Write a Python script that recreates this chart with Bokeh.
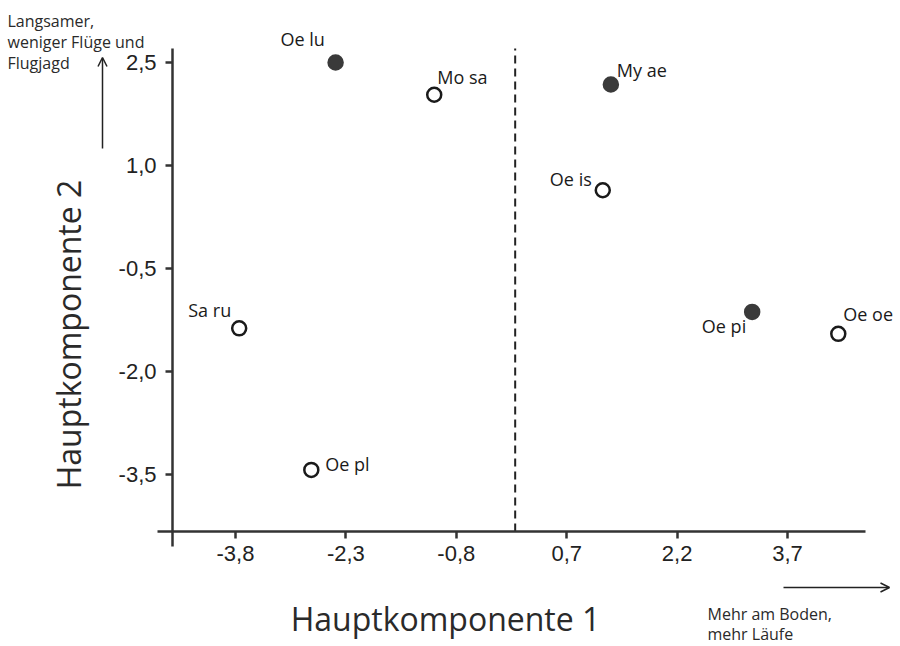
import math
from bokeh.plotting import figure
from bokeh.models import (ColumnDataSource, Range1d, FixedTicker, Label,
                          Arrow, OpenHead, LinearAxis)
from bokeh.core.properties import value
from bokeh.embed import file_html
from bokeh.resources import INLINE

# ---------------- data ----------------
species = ["Oe lu", "Mo sa", "My ae", "Oe is", "Oe pi", "Oe oe", "Sa ru", "Oe pl"]
pc1 = [-2.44, -1.10, 1.30, 1.19, 3.22, 4.39, -3.75, -2.77]
pc2 = [2.50, 2.03, 2.18, 0.64, -1.13, -1.45, -1.37, -3.43]
filled = [True, False, True, False, True, False, False, False]

x_ticks = [-3.8, -2.3, -0.8, 0.7, 2.2, 3.7]
y_ticks = [2.5, 1.0, -0.5, -2.0, -3.5]
x_tick_labels = ["-3,8", "-2,3", "-0,8", "0,7", "2,2", "3,7"]
y_tick_labels = ["2,5", "1,0", "-0,5", "-2,0", "-3,5"]
split_at = 0.0

x_title = "Hauptkomponente 1"
y_title = "Hauptkomponente 2"
y_note = ["Langsamer,", "weniger Flüge und", "Flugjagd"]
x_note = ["Mehr am Boden,", "mehr Läufe"]

# ---------------- label placement (screen px) ----------------
lab_dx = [-33, 3, 6, -11, -6, 5, -8, 14]
lab_dy = [-24, -18, -14, -11, 14, -20, -18, -6]
lab_align = ["center", "left", "left", "right", "right", "left", "right", "left"]

# ---------------- geometry ----------------
W, H = 900, 646
PX_X, PX_Y = 73.6, 68.7          # pixels per unit
XA = -3.8 - 235 / PX_X           # data x at canvas left
YA = 2.5 + 62 / PX_Y             # data y at canvas top


def dxp(px):
    return XA + px / PX_X


def dyp(py):
    return YA - py / PX_Y


p = figure(width=W, height=H, output_backend="svg", toolbar_location=None,
           x_range=Range1d(XA, XA + W / PX_X), y_range=Range1d(YA - H / PX_Y, YA),
           x_axis_location=None, y_axis_location=None,
           min_border=0, min_border_left=0, min_border_right=0,
           min_border_top=0, min_border_bottom=0)
p.outline_line_color = None
p.grid.visible = False
p.background_fill_color = "white"
p.border_fill_color = "white"

x_axis_at = dyp(531)
y_axis_at = dxp(172)
top_at = dyp(48)

xax = LinearAxis(fixed_location=x_axis_at, bounds=(dxp(157), dxp(865)))
yax = LinearAxis(fixed_location=y_axis_at, bounds=(dyp(546), top_at))
p.add_layout(xax, "below")
p.add_layout(yax, "left")

TICK_FONT = "Liberation Sans"
for ax, ticks, labels in ((xax, x_ticks, x_tick_labels),
                          (yax, y_ticks, y_tick_labels)):
    ax.ticker = FixedTicker(ticks=ticks)
    ax.major_label_overrides = {t: l for t, l in zip(ticks, labels)}
    ax.minor_tick_line_color = None
    ax.axis_line_width = 2.5
    ax.axis_line_color = "#333333"
    ax.major_tick_line_color = "#333333"
    ax.major_tick_line_width = 2.5
    ax.major_tick_in = 0
    ax.major_tick_out = 7
    ax.major_label_text_font = TICK_FONT
    ax.major_label_text_font_size = "22px"
    ax.major_label_text_color = "#222222"
xax.major_label_standoff = 7
yax.major_label_standoff = 9

# dashed separator from the x axis to the top of the plot area
p.segment(x0=[split_at], y0=[x_axis_at], x1=[split_at], y1=[top_at],
          line_color="#222222", line_width=2, line_dash="8 5")

src = ColumnDataSource(dict(
    x=pc1, y=pc2, name=species,
    fill=["#3a3a3a" if f else "white" for f in filled],
    line=["#3a3a3a" if f else "#1a1a1a" for f in filled],
    dx=lab_dx, dy=lab_dy, align=lab_align))

p.scatter("x", "y", source=src, size=14, marker="circle",
          fill_color="fill", line_color="line", line_width=2.5)
p.text("x", "y", text="name", source=src, x_offset="dx", y_offset="dy",
       text_align="align", text_baseline="middle",
       text_font=value("Open Sans"), text_font_size="18px", text_color="#1a1a1a")

# axis titles
p.add_layout(Label(x=dxp(445), y=dyp(618), text=x_title, text_font="Open Sans",
                   text_font_size="32px", text_color="#2a2a2a",
                   text_align="center", text_baseline="alphabetic"))
p.add_layout(Label(x=dxp(68), y=dyp(334), text=y_title, text_font="Open Sans",
                   text_font_size="32px", text_color="#2a2a2a", angle=math.pi / 2,
                   text_align="center", text_baseline="alphabetic"))

# notes
for i, line in enumerate(y_note):
    p.add_layout(Label(x=dxp(7), y=dyp(20 + 21 * i), text=line, text_font="Open Sans",
                       text_font_size="16px", text_color="#2a2a2a",
                       text_align="left", text_baseline="alphabetic"))
for i, line in enumerate(x_note):
    p.add_layout(Label(x=dxp(707), y=dyp(613 + 20 * i), text=line, text_font="Open Sans",
                       text_font_size="16px", text_color="#2a2a2a",
                       text_align="left", text_baseline="alphabetic"))

p.add_layout(Arrow(x_start=dxp(102), y_start=dyp(148), x_end=dxp(102), y_end=dyp(57),
                   line_width=1.5, line_color="#222222",
                   end=OpenHead(size=9, line_width=1.5, line_color="#222222")))
p.add_layout(Arrow(x_start=dxp(783), y_start=dyp(587), x_end=dxp(889), y_end=dyp(587),
                   line_width=1.5, line_color="#222222",
                   end=OpenHead(size=9, line_width=1.5, line_color="#222222")))

open("out.html", "w").write(file_html(p, INLINE))
